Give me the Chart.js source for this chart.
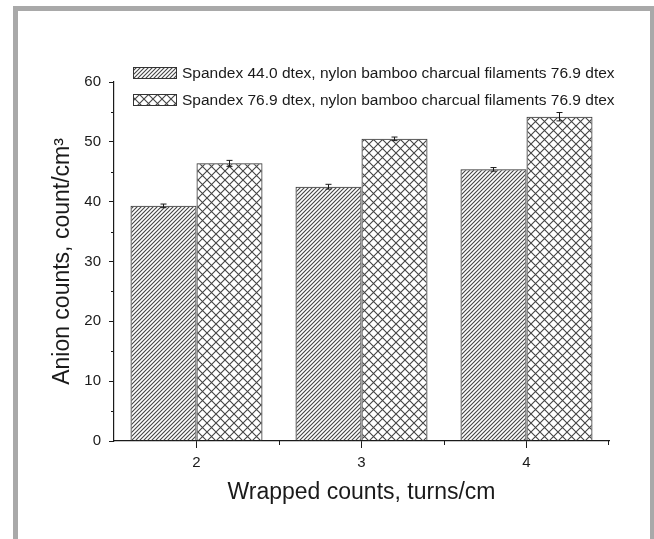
<!DOCTYPE html>
<html>
<head>
<meta charset="utf-8">
<script src="https://cdn.jsdelivr.net/npm/chart.js@4.4.0/dist/chart.umd.min.js"></script>
<style>
  html, body { margin: 0; padding: 0; background: #fff; }
  #frame { position: absolute; left: 13px; top: 6px; width: 632px; height: 540px; border: 5px solid #a9a9a9; border-bottom: none; }
  #wrap { position: absolute; left: 0; top: 0; width: 654px; height: 539px; }
</style>
</head>
<body>
<div id="frame"></div>
<div id="wrap"><canvas id="chart"></canvas></div>
<script>
const categories = ['2', '3', '4'];
const seriesNames = [
  'Spandex 44.0 dtex, nylon bamboo charcual filaments 76.9 dtex',
  'Spandex 76.9 dtex, nylon bamboo charcual filaments 76.9 dtex'
];
const spandex44 = [39.3, 42.5, 45.4];
const spandex44Err = [0.3, 0.4, 0.3];
const spandex769 = [46.4, 50.5, 54.2];
const spandex769Err = [0.5, 0.3, 0.7];
const yTicks = [0, 10, 20, 30, 40, 50, 60];

const FONT = '"Liberation Sans", Arial, sans-serif';
const INK = '#1a1a1a';

function hatchPattern() {
  const c = document.createElement('canvas');
  c.width = 4; c.height = 4;
  const g = c.getContext('2d');
  g.strokeStyle = '#444';
  g.lineWidth = 1.1;
  g.beginPath();
  g.moveTo(-1, 5); g.lineTo(5, -1);
  g.moveTo(-1, 1); g.lineTo(1, -1);
  g.moveTo(3, 5); g.lineTo(5, 3);
  g.stroke();
  return g.createPattern(c, 'repeat');
}

function crossPattern() {
  const c = document.createElement('canvas');
  c.width = 9; c.height = 9;
  const g = c.getContext('2d');
  g.strokeStyle = '#444';
  g.lineWidth = 1.1;
  g.beginPath();
  g.moveTo(-1, -1); g.lineTo(10, 10);
  g.moveTo(-1, 10); g.lineTo(10, -1);
  g.stroke();
  return g.createPattern(c, 'repeat');
}

const errors = [spandex44Err, spandex769Err];

// error bars, minor ticks and the legend box
const extras = {
  id: 'extras',
  afterDatasetsDraw(chart) {
    const ctx = chart.ctx;
    const y = chart.scales.y;
    ctx.save();
    ctx.strokeStyle = INK;
    ctx.lineWidth = 1;
    chart.data.datasets.forEach((ds, i) => {
      chart.getDatasetMeta(i).data.forEach((bar, j) => {
        const v = ds.data[j], e = errors[i][j];
        const top = y.getPixelForValue(v + e), bot = y.getPixelForValue(v - e);
        ctx.beginPath();
        ctx.moveTo(bar.x, top); ctx.lineTo(bar.x, bot);
        ctx.moveTo(bar.x - 3, top); ctx.lineTo(bar.x + 3, top);
        ctx.moveTo(bar.x - 3, bot); ctx.lineTo(bar.x + 3, bot);
        ctx.stroke();
      });
    });
    ctx.restore();
  },
  afterDraw(chart) {
    const ctx = chart.ctx;
    const {x, y} = chart.scales;
    const area = chart.chartArea;
    ctx.save();
    ctx.strokeStyle = INK;
    ctx.lineWidth = 1;
    ctx.beginPath();
    for (let k = 0; k < yTicks.length - 1; k++) {
      const py = Math.round(y.getPixelForValue((yTicks[k] + yTicks[k + 1]) / 2)) + 0.5;
      ctx.moveTo(area.left - 3, py); ctx.lineTo(area.left, py);
    }
    for (let k = 0; k < categories.length - 1; k++) {
      const px = Math.round((x.getPixelForTick(k) + x.getPixelForTick(k + 1)) / 2) + 0.5;
      ctx.moveTo(px, area.bottom); ctx.lineTo(px, area.bottom + 4);
    }
    ctx.moveTo(Math.round(area.right) - 0.5, area.bottom); ctx.lineTo(Math.round(area.right) - 0.5, area.bottom + 4);
    ctx.stroke();

    ctx.font = '15.5px ' + FONT;
    ctx.textBaseline = 'middle';
    chart.data.datasets.forEach((ds, i) => {
      const ly = 73 + i * 27;
      ctx.fillStyle = ds.backgroundColor;
      ctx.fillRect(133, ly - 6, 44, 12);
      ctx.strokeStyle = '#333';
      ctx.strokeRect(133.5, ly - 5.5, 43, 11);
      ctx.fillStyle = INK;
      ctx.fillText(ds.label, 182, ly + 1);
    });
    ctx.restore();
  }
};

new Chart(document.getElementById('chart'), {
  type: 'bar',
  data: {
    labels: categories,
    datasets: [
      {
        label: seriesNames[0],
        data: spandex44,
        backgroundColor: hatchPattern(),
        borderColor: '#333',
        borderWidth: 1,
        categoryPercentage: 0.8,
        barPercentage: 1.0
      },
      {
        label: seriesNames[1],
        data: spandex769,
        backgroundColor: crossPattern(),
        borderColor: '#333',
        borderWidth: 1,
        categoryPercentage: 0.8,
        barPercentage: 1.0
      }
    ]
  },
  options: {
    responsive: true,
    maintainAspectRatio: false,
    animation: false,
    layout: { padding: { top: 82, right: 45, left: 0, bottom: 0 } },
    plugins: {
      legend: { display: false },
      tooltip: { enabled: false }
    },
    scales: {
      x: {
        afterFit: s => { s.height = 98; },
        grid: { offset: false, drawOnChartArea: false, tickLength: 7, color: INK },
        border: { color: INK, width: 1.2 },
        ticks: { color: INK, padding: 6, font: { family: FONT, size: 15 } },
        title: {
          display: true,
          text: 'Wrapped counts, turns/cm',
          color: INK,
          font: { family: FONT, size: 23 },
          padding: { top: 0, bottom: 33 }
        }
      },
      y: {
        min: 0,
        max: 60,
        afterFit: s => { s.width = 114; },
        afterBuildTicks: s => { s.ticks = yTicks.map(v => ({ value: v })); },
        grid: { drawOnChartArea: false, tickLength: 5, color: INK },
        border: { color: INK, width: 1.2 },
        ticks: { color: INK, padding: 8, font: { family: FONT, size: 15 } },
        title: {
          display: true,
          text: 'Anion counts, count/cm³',
          color: INK,
          font: { family: FONT, size: 23 },
          padding: { top: 49, bottom: 0 }
        }
      }
    }
  },
  plugins: [extras]
});
</script>
</body>
</html>
